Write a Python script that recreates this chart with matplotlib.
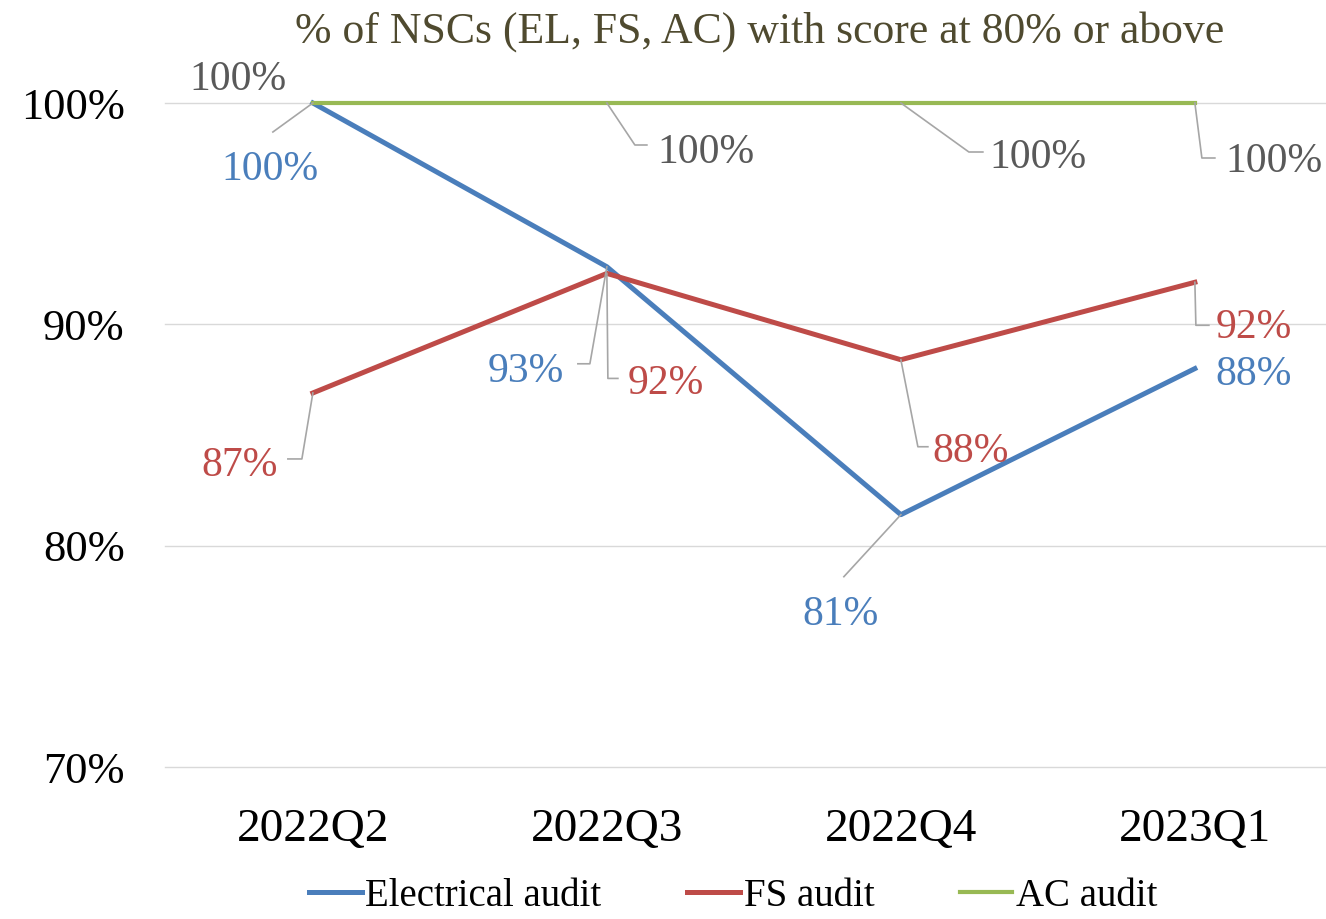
import matplotlib
matplotlib.use("Agg")
import matplotlib.pyplot as plt
from matplotlib.lines import Line2D
from matplotlib.transforms import IdentityTransform

plt.rcParams["font.family"] = ["Liberation Serif", "DejaVu Serif"]

quarters = ["2022Q2", "2022Q3", "2022Q4", "2023Q1"]
electrical = [100.0, 92.6, 81.4, 88.0]
fs = [86.9, 92.3, 88.4, 91.9]
ac = [100.0, 100.0, 100.0, 100.0]

# label placement in pixels relative to the point (x right, y down):
# text centre, then the leader line vertices
elec_lab = [((-43, 67), [(0, 0), (-40, 29)]),
            ((-81, 105), [(0, 0), (-17, 97), (-29, 97)]),
            ((-60, 100), [(0, 0), (-57, 62)]),
            ((59, 6), None)]
fs_lab = [((-73, 73), [(0, 0), (-11, 66), (-25, 66)]),
          ((59, 110), [(0, 0), (1, 105), (11, 105)]),
          ((70, 92), [(0, 0), (17, 87), (27, 87)]),
          ((59, 45), [(0, 0), (1, 43), (14, 43)])]
ac_lab = [((-75, -23), None),
          ((99, 50), [(0, 0), (28, 42), (40, 42)]),
          ((137, 55), [(0, 0), (68, 49), (82, 49)]),
          ((79, 59), [(0, 0), (7, 55), (20, 55)])]

c_blue = "#4a7ebb"
c_red = "#be4b48"
c_green = "#98b954"
c_gray = "#595959"

fig = plt.figure(figsize=(13.26, 9.19), dpi=100)
ax = fig.add_axes([165 / 1326, 152 / 919, 1161 / 1326, 664 / 919])
x = range(len(quarters))

ax.plot(x, electrical, color=c_blue, lw=3.6, label="Electrical audit", clip_on=False, zorder=3)
ax.plot(x, fs, color=c_red, lw=3.6, label="FS audit", clip_on=False, zorder=3)
ax.plot(x, ac, color=c_green, lw=3.0, label="AC audit", clip_on=False, zorder=3)

ax.set_xlim(-0.503, 3.446)
ax.set_ylim(70, 100)
ax.set_yticks([70, 80, 90, 100])
ax.set_yticklabels(["70%", "80%", "90%", "100%"], fontsize=32)
ax.set_xticks(list(x))
ax.set_xticklabels(quarters, fontsize=34)
ax.tick_params(length=0, colors="#000000")
ax.tick_params(axis="y", pad=29)
ax.tick_params(axis="x", pad=30)
ax.grid(axis="y", color="#d9d9d9", lw=1)
for gl in ax.get_ygridlines():
    gl.set_clip_on(False)
ax.set_axisbelow(True)
for s in ax.spines.values():
    s.set_visible(False)

for vals, labs, col in [(electrical, elec_lab, c_blue), (fs, fs_lab, c_red), (ac, ac_lab, c_gray)]:
    for i, v in enumerate(vals):
        (tx, ty), leader = labs[i]
        ax.annotate(f"{v:.0f}%", (i, v), xytext=(tx, -ty), textcoords="offset pixels",
                    ha="center", va="center", fontsize=30, color=col, zorder=4)
        if leader:
            px, py = ax.transData.transform((i, v))
            xs = [px + dx for dx, dy in leader]
            ys = [py - dy for dx, dy in leader]
            fig.add_artist(Line2D(xs, ys, transform=IdentityTransform(),
                                  color="#a6a6a6", lw=1.2, zorder=2))

fig.text(0.573, 1 - 32 / 919, "% of NSCs (EL, FS, AC) with score at 80% or above",
         ha="center", va="center", fontsize=31.5, color="#4f4a2f")

fig.legend(loc="center", bbox_to_anchor=(0.553, 1 - 896 / 919), ncol=3, frameon=False,
           fontsize=28, handlelength=1.35, handletextpad=0.1, columnspacing=2.2)

fig.savefig("out.png", dpi=100)
